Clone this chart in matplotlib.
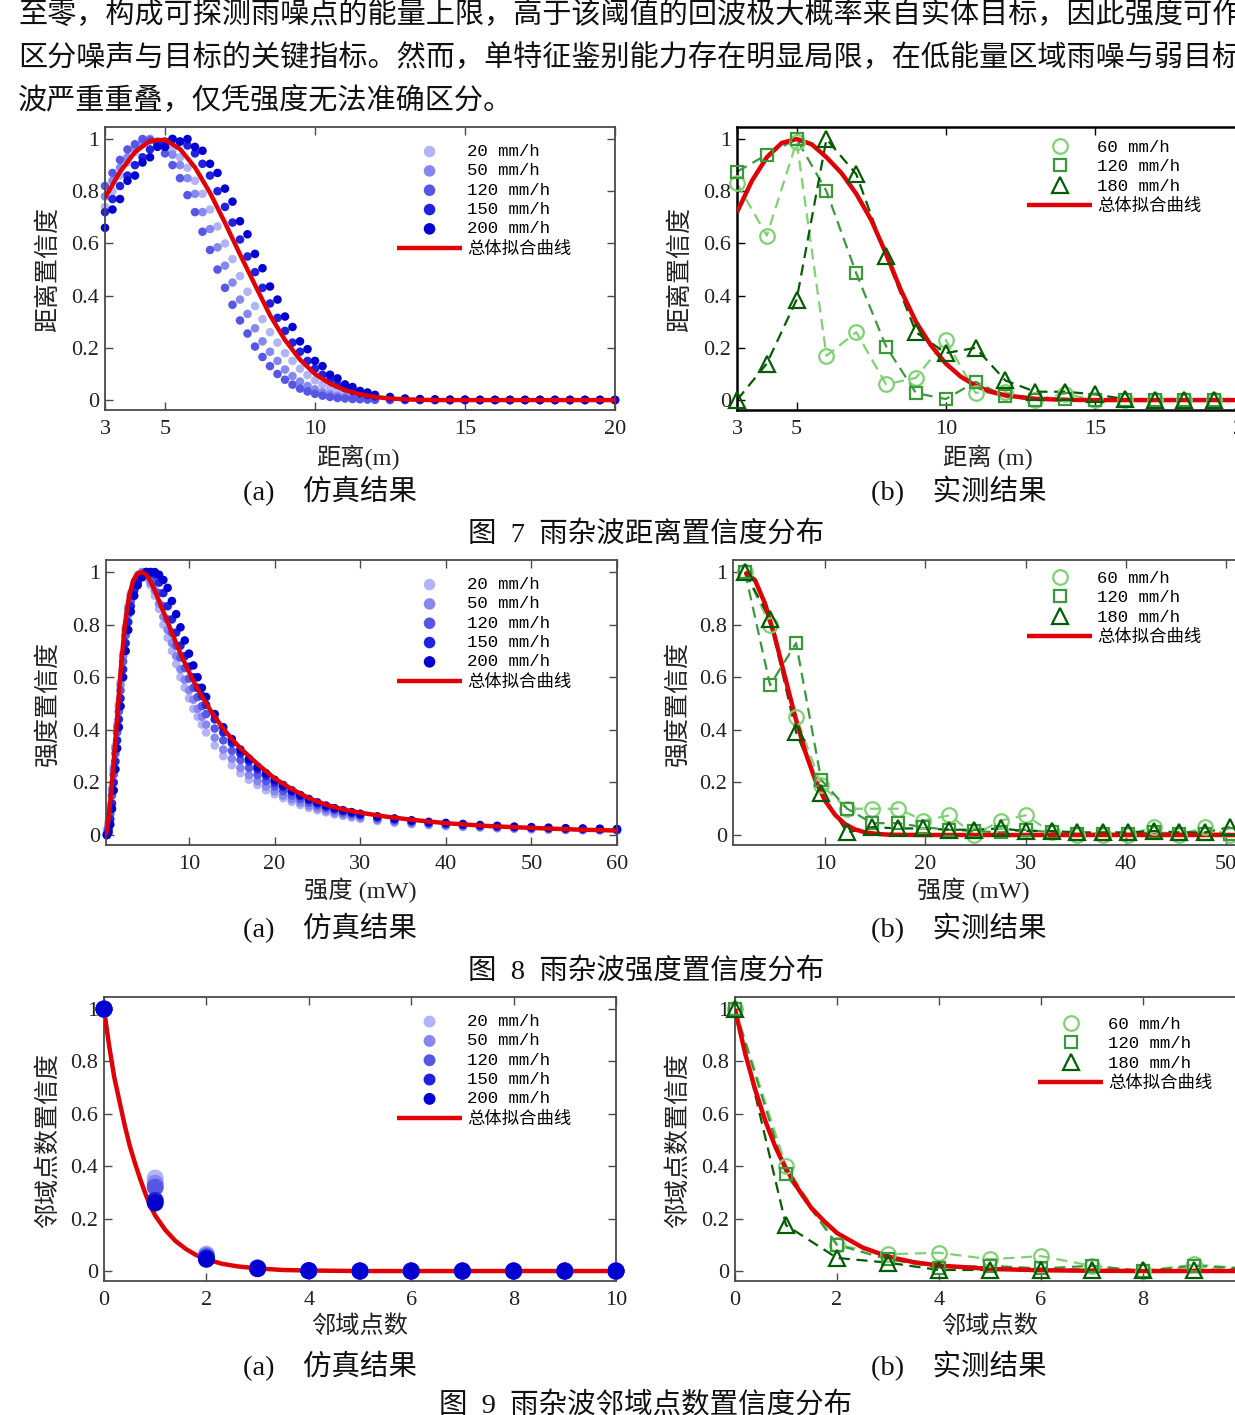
import matplotlib
matplotlib.use("Agg")
import matplotlib.pyplot as plt
from matplotlib.font_manager import FontProperties

# ---------------- text ----------------
PARAGRAPH = [
    "至零，构成可探测雨噪点的能量上限，高于该阈值的回波极大概率来自实体目标，因此强度可作",
    "区分噪声与目标的关键指标。然而，单特征鉴别能力存在明显局限，在低能量区域雨噪与弱目标",
    "波严重重叠，仅凭强度无法准确区分。",
]
SIM_LABELS = ["20 mm/h", "50 mm/h", "120 mm/h", "150 mm/h", "200 mm/h"]
MEAS_LABELS = ["60 mm/h", "120 mm/h", "180 mm/h"]
FIT_LABEL = "总体拟合曲线"
Y_TICKS = [0, 0.2, 0.4, 0.6, 0.8, 1.0]
Y_TICK_LABELS = ["0", "0.2", "0.4", "0.6", "0.8", "1"]

# ---------------- Fig 7 (a): distance, simulation ----------------
A1_x = [3.0, 3.25, 3.5, 3.75, 4.0, 4.25, 4.5, 4.75, 5.0, 5.25, 5.5, 5.75, 6.0, 6.25, 6.5, 6.75,
        7.0, 7.25, 7.5, 7.75, 8.0, 8.25, 8.5, 8.75, 9.0, 9.25, 9.5, 9.75, 10.0, 10.25, 10.5, 10.75,
        11.0, 11.25, 11.5, 11.75, 12.0, 12.5, 13.0, 13.5, 14.0, 14.5, 15.0, 15.5, 16.0, 16.5, 17.0,
        17.5, 18.0, 18.5, 19.0, 19.5, 20.0]
A1_r20 = [0.74, 0.80, 0.86, 0.91, 0.95, 0.98, 1.0, 0.99, 0.97, 0.96, 0.93, 0.89, 0.84, 0.79, 0.73, 0.665,
          0.60, 0.54, 0.475, 0.415, 0.36, 0.31, 0.26, 0.22, 0.18, 0.15, 0.12, 0.096, 0.076, 0.06, 0.046,
          0.035, 0.027, 0.02, 0.015, 0.011, 0.008, 0.004, 0.002, 0.001, 0, 0, 0, 0, 0, 0, 0, 0, 0, 0, 0, 0, 0]
A1_r50 = [0.78, 0.84, 0.89, 0.93, 0.97, 0.99, 1.0, 0.99, 0.97, 0.94, 0.90, 0.85, 0.79, 0.72, 0.655, 0.585,
          0.515, 0.45, 0.385, 0.33, 0.275, 0.225, 0.185, 0.15, 0.117, 0.092, 0.071, 0.054, 0.041, 0.03,
          0.022, 0.016, 0.012, 0.009, 0.006, 0.004, 0.003, 0.001, 0, 0, 0, 0, 0, 0, 0, 0, 0, 0, 0, 0, 0, 0, 0]
A1_r120 = [0.82, 0.87, 0.92, 0.96, 0.98, 1.0, 0.995, 0.98, 0.945, 0.90, 0.85, 0.785, 0.72, 0.645, 0.575,
           0.50, 0.43, 0.365, 0.305, 0.255, 0.205, 0.165, 0.13, 0.10, 0.078, 0.059, 0.044, 0.033, 0.024,
           0.017, 0.012, 0.008, 0.006, 0.004, 0.003, 0.002, 0.001, 0, 0, 0, 0, 0, 0, 0, 0, 0, 0, 0, 0, 0, 0, 0, 0]
A1_r150 = [0.72, 0.77, 0.82, 0.86, 0.90, 0.93, 0.96, 0.98, 0.99, 1.0, 0.99, 0.975, 0.945, 0.905, 0.86, 0.80,
           0.74, 0.68, 0.615, 0.55, 0.49, 0.43, 0.37, 0.315, 0.265, 0.22, 0.185, 0.15, 0.12, 0.097, 0.076,
           0.059, 0.046, 0.035, 0.026, 0.019, 0.014, 0.007, 0.003, 0.002, 0.001, 0, 0, 0, 0, 0, 0, 0, 0, 0, 0, 0, 0]
A1_r200 = [0.66, 0.73, 0.77, 0.84, 0.86, 0.91, 0.93, 0.97, 0.97, 1.0, 0.99, 1.0, 0.97, 0.955, 0.905, 0.87,
           0.81, 0.76, 0.685, 0.635, 0.56, 0.505, 0.435, 0.385, 0.32, 0.28, 0.225, 0.195, 0.15, 0.13, 0.097,
           0.083, 0.06, 0.05, 0.035, 0.029, 0.02, 0.012, 0.006, 0.004, 0.003, 0.002, 0.002, 0.001, 0.001,
           0.001, 0.001, 0.001, 0.001, 0.001, 0.001, 0.001, 0.001]
A1_fit_x = [3.0, 3.5, 4.0, 4.5, 5.0, 5.5, 6.0, 6.5, 7.0, 7.5, 8.0, 8.5, 9.0, 9.5, 10.0, 10.5, 11.0, 11.5,
            12.0, 12.5, 13.0, 13.5, 14.0, 14.5, 15.0, 15.5, 16.0, 16.5, 17.0, 17.5, 18.0, 18.5, 19.0, 19.5, 20.0]
A1_fit = [0.775, 0.874, 0.950, 0.993, 0.997, 0.962, 0.891, 0.794, 0.679, 0.558, 0.441, 0.325, 0.23, 0.155,
          0.10, 0.063, 0.038, 0.022, 0.012, 0.006, 0.003, 0.001, 0, 0, 0, 0, 0, 0, 0, 0, 0, 0, 0, 0, 0]

# ---------------- Fig 7 (b): distance, measured ----------------
B1_x = [3, 4, 5, 6, 7, 8, 9, 10, 11, 12, 13, 14, 15, 16, 17, 18, 19, 20]
B1_r60 = [0.83, 0.63, 0.99, 0.17, 0.26, 0.06, 0.085, 0.23, 0.028, 0.03, 0.0, 0.025, 0.0, 0.0, 0.0, 0.0, 0.0, 0.0]
B1_r120 = [0.875, 0.94, 1.0, 0.80, 0.485, 0.205, 0.027, 0.004, 0.07, 0.014, 0.0, 0.005, 0.0, 0.0, 0.0, 0.0, 0.0, 0.0]
B1_r180 = [0.0, 0.14, 0.385, 1.0, 0.865, 0.55, 0.26, 0.18, 0.20, 0.075, 0.032, 0.032, 0.022, 0.004, 0.0, 0.0, 0.0, 0.0]
B1_fit_x = [3, 3.5, 4, 4.5, 5, 5.5, 6, 6.5, 7, 7.5, 8, 8.5, 9, 9.5, 10, 10.5, 11, 11.5, 12,
            13, 14, 15, 16, 17, 18, 19, 20]
B1_fit = [0.72, 0.84, 0.93, 0.985, 1.0, 0.98, 0.93, 0.87, 0.79, 0.69, 0.56, 0.42, 0.30, 0.21, 0.14, 0.09,
          0.055, 0.032, 0.018, 0.005, 0.001, 0, 0, 0, 0, 0, 0]

# ---------------- Fig 8 (a): intensity, simulation ----------------
A2_x = [0.4, 0.6, 0.8, 1.0, 1.2, 1.4, 1.6, 1.8, 2.0, 2.3, 2.6, 2.9, 3.2, 3.6, 4.0,
        4.5, 5.0, 5.5, 6.0, 6.5, 7.0, 7.5, 8.0, 8.5, 9.0, 9.5, 10.0, 10.5, 11.0, 11.5, 12.0,
        13, 14, 15, 16, 17, 18, 19, 20, 21, 22, 23, 24, 25, 26, 27, 28, 29, 30,
        32, 34, 36, 38, 40, 42, 44, 46, 48, 50, 52, 54, 56, 58, 60]
A2_r20 = [0.02, 0.05, 0.11, 0.18, 0.26, 0.34, 0.42, 0.50, 0.58, 0.69, 0.79, 0.87, 0.92, 0.96, 0.99,
          1.0, 0.98, 0.95, 0.91, 0.86, 0.80, 0.75, 0.70, 0.65, 0.60, 0.56, 0.52, 0.48, 0.45, 0.42, 0.39,
          0.34, 0.30, 0.265, 0.235, 0.21, 0.19, 0.17, 0.155, 0.14, 0.126, 0.114, 0.103, 0.094, 0.086, 0.078,
          0.072, 0.066, 0.061,
          0.053, 0.046, 0.041, 0.037, 0.033, 0.03, 0.028, 0.025, 0.023, 0.021, 0.02, 0.019, 0.018, 0.017, 0.016]
A2_r50 = [0.01, 0.04, 0.10, 0.17, 0.25, 0.33, 0.41, 0.49, 0.57, 0.68, 0.78, 0.86, 0.91, 0.95, 0.98,
          1.0, 0.99, 0.96, 0.93, 0.88, 0.83, 0.78, 0.73, 0.68, 0.63, 0.59, 0.55, 0.515, 0.48, 0.45, 0.42,
          0.37, 0.325, 0.29, 0.255, 0.228, 0.205, 0.185, 0.167, 0.15, 0.136, 0.123, 0.111, 0.101, 0.092,
          0.084, 0.077, 0.071, 0.066,
          0.057, 0.05, 0.044, 0.04, 0.036, 0.033, 0.03, 0.027, 0.025, 0.023, 0.021, 0.02, 0.019, 0.018, 0.017]
A2_r120 = [0.0, 0.03, 0.08, 0.15, 0.23, 0.31, 0.39, 0.47, 0.55, 0.66, 0.76, 0.84, 0.89, 0.94, 0.97,
           0.99, 1.0, 0.99, 0.96, 0.92, 0.87, 0.82, 0.77, 0.72, 0.675, 0.635, 0.595, 0.56, 0.525, 0.49, 0.46,
           0.405, 0.36, 0.32, 0.285, 0.255, 0.228, 0.205, 0.185, 0.167, 0.15, 0.136, 0.123, 0.112, 0.102,
           0.093, 0.085, 0.079, 0.073,
           0.063, 0.055, 0.049, 0.044, 0.04, 0.036, 0.033, 0.03, 0.028, 0.026, 0.024, 0.022, 0.021, 0.02, 0.019]
A2_r150 = [0.0, 0.02, 0.06, 0.12, 0.20, 0.28, 0.36, 0.44, 0.52, 0.63, 0.73, 0.81, 0.87, 0.93, 0.96,
           0.99, 1.0, 1.0, 0.99, 0.96, 0.92, 0.87, 0.82, 0.77, 0.72, 0.68, 0.64, 0.60, 0.56, 0.53, 0.495,
           0.44, 0.39, 0.35, 0.31, 0.28, 0.25, 0.225, 0.20, 0.182, 0.164, 0.148, 0.133, 0.12, 0.109, 0.10,
           0.092, 0.085, 0.078,
           0.068, 0.06, 0.053, 0.047, 0.043, 0.039, 0.036, 0.033, 0.03, 0.028, 0.026, 0.024, 0.023, 0.022, 0.021]
A2_r200 = [0.0, 0.01, 0.04, 0.10, 0.17, 0.25, 0.33, 0.41, 0.49, 0.60, 0.70, 0.78, 0.85, 0.91, 0.95,
           0.98, 1.0, 1.0, 1.0, 0.99, 0.97, 0.94, 0.89, 0.84, 0.79, 0.74, 0.69, 0.645, 0.60, 0.56, 0.525,
           0.46, 0.41, 0.365, 0.325, 0.29, 0.26, 0.235, 0.21, 0.19, 0.17, 0.152, 0.137, 0.124, 0.112, 0.102,
           0.094, 0.087, 0.081,
           0.071, 0.063, 0.056, 0.05, 0.046, 0.042, 0.038, 0.035, 0.032, 0.03, 0.028, 0.026, 0.025, 0.024, 0.023]
A2_fit_x = [0.3, 0.6, 1.0, 1.5, 2.0, 2.5, 3.0, 3.5, 4.0, 4.5, 5.0, 5.5, 6.0, 7, 8, 9, 10, 11, 12, 13, 14,
            15, 16, 18, 20, 22, 24, 26, 28, 30, 33, 36, 40, 45, 50, 55, 60]
A2_fit = [0.0, 0.06, 0.20, 0.40, 0.62, 0.80, 0.91, 0.97, 0.995, 1.0, 0.99, 0.965, 0.93, 0.85, 0.77, 0.69,
          0.62, 0.555, 0.50, 0.45, 0.405, 0.365, 0.33, 0.27, 0.215, 0.175, 0.14, 0.115, 0.097, 0.085, 0.07,
          0.058, 0.045, 0.034, 0.027, 0.021, 0.017]

# ---------------- Fig 8 (b): intensity, measured ----------------
B2_x = [2.0, 4.5, 7.1, 9.6, 12.2, 14.7, 17.3, 19.8, 22.4, 24.9, 27.5, 30.0, 32.6, 35.1, 37.7, 40.2,
        42.8, 45.3, 47.9, 50.4]
B2_r60 = [1.0, 0.80, 0.45, 0.19, 0.10, 0.10, 0.10, 0.055, 0.075, 0.0, 0.055, 0.075, 0.01, 0.0, 0.0, 0.0,
          0.03, 0.0, 0.03, 0.0]
B2_r120 = [1.0, 0.57, 0.73, 0.21, 0.10, 0.045, 0.045, 0.03, 0.02, 0.015, 0.01, 0.02, 0.01, 0.005, 0.005,
           0.005, 0.01, 0.005, 0.005, 0.005]
B2_r180 = [1.0, 0.82, 0.39, 0.16, 0.01, 0.03, 0.025, 0.025, 0.02, 0.02, 0.025, 0.015, 0.015, 0.01, 0.01,
           0.01, 0.015, 0.01, 0.01, 0.03]
B2_fit_x = [2, 3, 4, 5, 6, 7, 8, 9, 10, 11, 12, 13, 14, 15, 16, 17, 20, 25, 30, 35, 40, 45, 50, 52]
B2_fit = [1.0, 0.969, 0.88, 0.751, 0.60, 0.451, 0.318, 0.21, 0.13, 0.076, 0.041, 0.021, 0.01, 0.005,
          0.002, 0.001, 0, 0, 0, 0, 0, 0, 0, 0]

# ---------------- Fig 9 (a): neighbour count, simulation ----------------
A3_x = [0, 1, 2, 3, 4, 5, 6, 7, 8, 9, 10]
A3_r20 = [1.0, 0.355, 0.065, 0.013, 0.002, 0, 0, 0, 0, 0, 0]
A3_r50 = [1.0, 0.335, 0.06, 0.012, 0.002, 0, 0, 0, 0, 0, 0]
A3_r120 = [1.0, 0.32, 0.055, 0.011, 0.001, 0, 0, 0, 0, 0, 0]
A3_r150 = [1.0, 0.27, 0.05, 0.01, 0.001, 0, 0, 0, 0, 0, 0]
A3_r200 = [1.0, 0.26, 0.045, 0.009, 0.001, 0, 0, 0, 0, 0, 0]
A3_fit_x = [0, 0.1, 0.2, 0.3, 0.4, 0.5, 0.6, 0.7, 0.8, 0.9, 1.0, 1.2, 1.4, 1.6, 1.8, 2.0, 2.3, 2.6,
            3.0, 3.5, 4.0, 5, 6, 7, 8, 9, 10]
A3_fit = [1.0, 0.86, 0.74, 0.65, 0.56, 0.48, 0.415, 0.355, 0.30, 0.25, 0.212, 0.156, 0.114, 0.084, 0.061,
          0.045, 0.028, 0.018, 0.01, 0.004, 0.002, 0, 0, 0, 0, 0, 0]

# ---------------- Fig 9 (b): neighbour count, measured ----------------
B3_x = [0, 1, 2, 3, 4, 5, 6, 7, 8, 9, 10]
B3_r60 = [1.0, 0.40, 0.10, 0.064, 0.07, 0.045, 0.057, 0.02, 0.0, 0.025, 0.01]
B3_r120 = [1.0, 0.37, 0.10, 0.045, 0.013, 0.02, 0.01, 0.02, 0.0, 0.02, 0.01]
B3_r180 = [1.0, 0.175, 0.05, 0.032, 0.004, 0.004, 0.005, 0.005, 0.003, 0.005, 0.005]
B3_fit_x = [0, 0.2, 0.4, 0.6, 0.8, 1.0, 1.25, 1.5, 1.75, 2.0, 2.5, 3, 3.5, 4, 5, 6, 7, 8, 9, 10]
B3_fit = [1.0, 0.83, 0.69, 0.57, 0.47, 0.39, 0.31, 0.24, 0.19, 0.145, 0.09, 0.055, 0.034, 0.021, 0.008,
          0.003, 0.001, 0, 0, 0]

# ---------------- styling ----------------
W, H = 1235, 1415
CJK = "Noto Sans CJK SC"
SERIF_CJK = ["Liberation Serif", CJK]
TICK_FONT = "Liberation Serif"
BLUES = [(0.70, 0.70, 0.97), (0.53, 0.53, 0.94), (0.34, 0.34, 0.90), (0.13, 0.13, 0.88), (0.0, 0.0, 0.82)]
GREENS = [(0.50, 0.82, 0.45), (0.23, 0.60, 0.23), (0.02, 0.36, 0.02)]
G_MARKERS = [("o", 10.5), ("s", 8.0), ("^", 11.0)]
RED = (0.88, 0.0, 0.02)
SPINE = "#4a4a4a"

fig = plt.figure(figsize=(W / 100, H / 100), dpi=100)
fig.patch.set_facecolor("white")


def fx(px):
    return px / W


def fy(py):
    return 1 - py / H


def make_axes(left, right, top, bottom):
    return fig.add_axes([fx(left), fy(bottom), (right - left) / W, (bottom - top) / H])


def to_axes(ax, px, py):
    return ax.transAxes.inverted().transform((px, H - py))


def style(ax, xlim, xticks, xlabel, ylabel, xl_pos, yl_pos, dark=False):
    ax.set_xlim(*xlim)
    ax.set_ylim(-0.038, 1.046)
    ax.set_xticks(xticks)
    ax.set_xticklabels([str(t) for t in xticks])
    ax.set_yticks(Y_TICKS)
    ax.set_yticklabels(Y_TICK_LABELS)
    col = "black" if dark else SPINE
    for s in ax.spines.values():
        s.set_color(col)
        s.set_linewidth(1.8 if dark else 1.3)
    ax.tick_params(direction="in", top=True, right=True, length=6, width=1.0, color=col,
                   labelcolor="#222222", labelsize=16)
    ax.tick_params(axis="x", pad=7)
    ax.tick_params(axis="y", pad=4)
    for lab in ax.get_xticklabels() + ax.get_yticklabels():
        lab.set_fontfamily(TICK_FONT)
    ax.set_xlabel(xlabel, fontsize=17.5, family=SERIF_CJK, color="#222222")
    ax.xaxis.set_label_coords(*to_axes(ax, *xl_pos))
    ax.xaxis.label.set_va("center")
    ax.set_ylabel(ylabel, fontsize=18, family=SERIF_CJK, color="#222222")
    ax.yaxis.set_label_coords(*to_axes(ax, *yl_pos))
    ax.yaxis.label.set_va("center")


LEG_PROP = FontProperties(family=["Liberation Mono", CJK], size=12.5)


def legend(ax, handles, labels, left_px, top_px, markerscale=1.0):
    ax.legend(handles, labels, loc="upper left", bbox_to_anchor=(fx(left_px), fy(top_px)),
              bbox_transform=fig.transFigure, frameon=False, borderpad=0, borderaxespad=0,
              handlelength=3.75, handletextpad=0.3, labelspacing=0.24, prop=LEG_PROP,
              markerscale=markerscale, scatterpoints=1, numpoints=1)


def sim_panel(ax, x, series, fit_x, fit, size, fit_on_top=True, leg_pos=None, mscale=1.0):
    handles = []
    for ys, c, lab in zip(series, BLUES, SIM_LABELS):
        h = ax.scatter(x, ys, s=size, color=c, edgecolors="none", label=lab, clip_on=False,
                       zorder=2 if fit_on_top else 4)
        handles.append(h)
    ln, = ax.plot(fit_x, fit, color=RED, lw=3.2, label=FIT_LABEL, zorder=3, solid_capstyle="butt")
    handles.append(ln)
    legend(ax, handles, SIM_LABELS + [FIT_LABEL], *leg_pos, markerscale=mscale)


def meas_panel(ax, x, series, fit_x, fit, leg_pos):
    handles = []
    for ys, c in zip(series, GREENS):
        ax.plot(x, ys, color=c, lw=1.6, dashes=(5, 3), zorder=2)
    ln, = ax.plot(fit_x, fit, color=RED, lw=3.2, zorder=3, solid_capstyle="butt")
    for ys, c, (m, ms), lab in zip(series, GREENS, G_MARKERS, MEAS_LABELS):
        h, = ax.plot(x, ys, linestyle="none", marker=m, ms=ms, mfc="none", mec=c, mew=1.6,
                     label=lab, zorder=4, clip_on=False)
        handles.append(h)
    handles.append(ln)
    legend(ax, handles, MEAS_LABELS + [FIT_LABEL], *leg_pos)


# ---------------- paragraph ----------------
for i, line in enumerate(PARAGRAPH):
    fig.text(fx(18), fy(15 + 43 * i), line, fontsize=21, family=CJK, va="center", ha="left",
             color="#111111")

# ---------------- Fig 7 ----------------
ax = make_axes(105, 615, 127, 410)
style(ax, (3, 20), [3, 5, 10, 15, 20], "距离(m)", "距离置信度", (358, 457), (48, 270))
sim_panel(ax, A1_x, [A1_r20, A1_r50, A1_r120, A1_r150, A1_r200], A1_fit_x, A1_fit, 38,
          leg_pos=(397, 144), mscale=1.35)

ax = make_axes(737, 1244, 127, 410)
style(ax, (3, 20), [3, 5, 10, 15, 20], "距离 (m)", "距离置信度", (988, 457), (680, 270), dark=True)
meas_panel(ax, B1_x, [B1_r60, B1_r120, B1_r180], B1_fit_x, B1_fit, (1027, 140))

# ---------------- Fig 8 ----------------
ax = make_axes(106, 617, 560, 845)
style(ax, (0.3, 60), [10, 20, 30, 40, 50, 60], "强度 (mW)", "强度置信度", (360, 890), (48, 703))
sim_panel(ax, A2_x, [A2_r20, A2_r50, A2_r120, A2_r150, A2_r200], A2_fit_x, A2_fit, 38,
          leg_pos=(397, 577), mscale=1.35)

ax = make_axes(733, 1246, 560, 845)
style(ax, (0.8, 52), [10, 20, 30, 40, 50], "强度 (mW)", "强度置信度", (973, 890), (678, 703))
meas_panel(ax, B2_x, [B2_r60, B2_r120, B2_r180], B2_fit_x, B2_fit, (1027, 571))

# ---------------- Fig 9 ----------------
ax = make_axes(104, 616, 997, 1281)
style(ax, (0, 10), [0, 2, 4, 6, 8, 10], "邻域点数", "邻域点数置信度", (360, 1327), (48, 1140))
sim_panel(ax, A3_x, [A3_r20, A3_r50, A3_r120, A3_r150, A3_r200], A3_fit_x, A3_fit, 150,
          fit_on_top=False, leg_pos=(397, 1014), mscale=0.7)

ax = make_axes(735, 1245, 997, 1281)
style(ax, (0, 10), [0, 2, 4, 6, 8, 10], "邻域点数", "邻域点数置信度", (990, 1327), (678, 1140))
meas_panel(ax, B3_x, [B3_r60, B3_r120, B3_r180], B3_fit_x, B3_fit, (1038, 1017))

# ---------------- captions ----------------
CAPTIONS = [
    ((330, 491), "(a)\u3000仿真结果"), ((959, 491), "(b)\u3000实测结果"), ((646, 534), "图  7  雨杂波距离置信度分布"),
    ((330, 928), "(a)\u3000仿真结果"), ((959, 928), "(b)\u3000实测结果"), ((646, 971), "图  8  雨杂波强度置信度分布"),
    ((330, 1366), "(a)\u3000仿真结果"), ((959, 1366), "(b)\u3000实测结果"), ((646, 1405), "图  9  雨杂波邻域点数置信度分布"),
]
for (px, py), txt in CAPTIONS:
    fig.text(fx(px), fy(py), txt, fontsize=20.5, family=SERIF_CJK, ha="center", va="center", color="#111111")

fig.savefig("out.png", dpi=100)
